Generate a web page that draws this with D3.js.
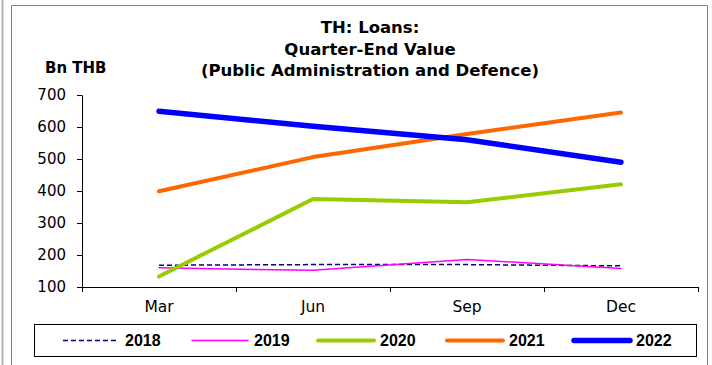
<!DOCTYPE html>
<html>
<head>
<meta charset="utf-8">
<script src="https://cdn.jsdelivr.net/npm/d3@7"></script>
<style>
  body { margin: 0; background: #fff; }
</style>
</head>
<body>
<svg id="chart" width="712" height="365"></svg>
<script>
// data
var quarters = ["Mar", "Jun", "Sep", "Dec"];
var years = ["2018", "2019", "2020", "2021", "2022"];
var v2018 = [168, 170, 170, 166];
var v2019 = [160, 152, 186, 158];
var v2020 = [133, 375, 365, 421];
var v2021 = [399, 506, 578, 645];
var v2022 = [649, 602, 560, 490];
var yTicks = [100, 200, 300, 400, 500, 600, 700];
var titleLines = ["TH: Loans:", "Quarter-End Value", "(Public Administration and Defence)"];

var series = [
  {key: "2018", values: v2018, color: "#000080", width: 1.5, dash: "5,3"},
  {key: "2019", values: v2019, color: "#ff00ff", width: 1.5, dash: null},
  {key: "2020", values: v2020, color: "#99cc00", width: 4, dash: null},
  {key: "2021", values: v2021, color: "#ff6600", width: 4, dash: null},
  {key: "2022", values: v2022, color: "#0000ff", width: 5.5, dash: null}
];

var svg = d3.select("#chart");

// outer frames
svg.append("line").attr("x1", 2.5).attr("x2", 2.5).attr("y1", 0).attr("y2", 365)
    .attr("stroke", "#b0b0b0").attr("stroke-width", 2);
svg.append("path")
    .attr("d", "M11.5,365V5.5H707.5V365")
    .attr("fill", "none").attr("stroke", "#808080");

// scales
var x = d3.scaleBand().domain(quarters).range([82, 698]);
var y = d3.scaleLinear().domain([100, 700]).range([287, 95]);

// title
svg.append("g").selectAll("text")
    .data(titleLines)
    .enter().append("text")
      .attr("x", 370)
      .attr("y", function(d, i) { return 33 + i * 21.5; })
      .attr("text-anchor", "middle")
      .style("font-family", "DejaVu Sans")
      .style("font-weight", "bold")
      .style("font-size", "16.5px")
      .text(function(d) { return d; });

svg.append("text")
    .attr("x", 45).attr("y", 73)
    .style("font-family", "DejaVu Sans")
    .style("font-weight", "bold")
    .style("font-size", "15px")
    .text("Bn THB");

// y axis
var yAxis = svg.append("g")
    .attr("transform", "translate(82,0)")
    .call(d3.axisLeft(y).tickValues(yTicks).tickSize(5).tickSizeOuter(0).tickPadding(11));
yAxis.selectAll("text")
    .style("font-family", "DejaVu Sans").style("font-size", "15px").attr("fill", "#000");

// x axis: labels centred, ticks on band edges
var xAxis = svg.append("g")
    .attr("transform", "translate(0,287)")
    .call(d3.axisBottom(x).tickSize(0).tickPadding(14));
xAxis.selectAll("text")
    .style("font-family", "DejaVu Sans").style("font-size", "15.5px").attr("fill", "#000");
xAxis.select(".domain").attr("d", "M82,0.5H698.5");
var edges = quarters.map(function(q) { return x(q); }).concat([x.range()[1]]);
xAxis.selectAll("line.edge")
    .data(edges)
    .enter().append("line")
      .attr("class", "edge")
      .attr("x1", function(d) { return Math.round(d) + 0.5; })
      .attr("x2", function(d) { return Math.round(d) + 0.5; })
      .attr("y1", 0).attr("y2", 5)
      .attr("stroke", "#000");

// lines
var line = d3.line()
    .x(function(d, i) { return x(quarters[i]) + x.bandwidth() / 2; })
    .y(function(d) { return y(d); });

svg.append("g").selectAll("path")
    .data(series)
    .enter().append("path")
      .attr("fill", "none")
      .attr("stroke", function(d) { return d.color; })
      .attr("stroke-width", function(d) { return d.width; })
      .attr("stroke-dasharray", function(d) { return d.dash; })
      .attr("stroke-linecap", function(d) { return d.dash ? "butt" : "round"; })
      .attr("stroke-linejoin", "round")
      .attr("d", function(d) { return line(d.values); });

// legend
svg.append("rect")
    .attr("x", 34.5).attr("y", 324.5)
    .attr("width", 662).attr("height", 32)
    .attr("fill", "none").attr("stroke", "#000");

var legendX = [63, 192, 318, 447, 574];
var legend = svg.append("g").selectAll("g")
    .data(series)
    .enter().append("g")
      .attr("transform", function(d, i) { return "translate(" + legendX[i] + ",340.5)"; });

legend.append("line")
    .attr("x1", 0).attr("x2", 56)
    .attr("stroke", function(d) { return d.color; })
    .attr("stroke-width", function(d) { return d.width; })
    .attr("stroke-dasharray", function(d) { return d.dash; })
    .attr("stroke-linecap", function(d) { return d.dash ? "butt" : "round"; });

legend.append("text")
    .attr("x", 62).attr("y", 5.5)
    .style("font-family", "Liberation Sans")
    .style("font-weight", "bold")
    .style("font-size", "16px")
    .text(function(d) { return d.key; });
</script>
</body>
</html>
